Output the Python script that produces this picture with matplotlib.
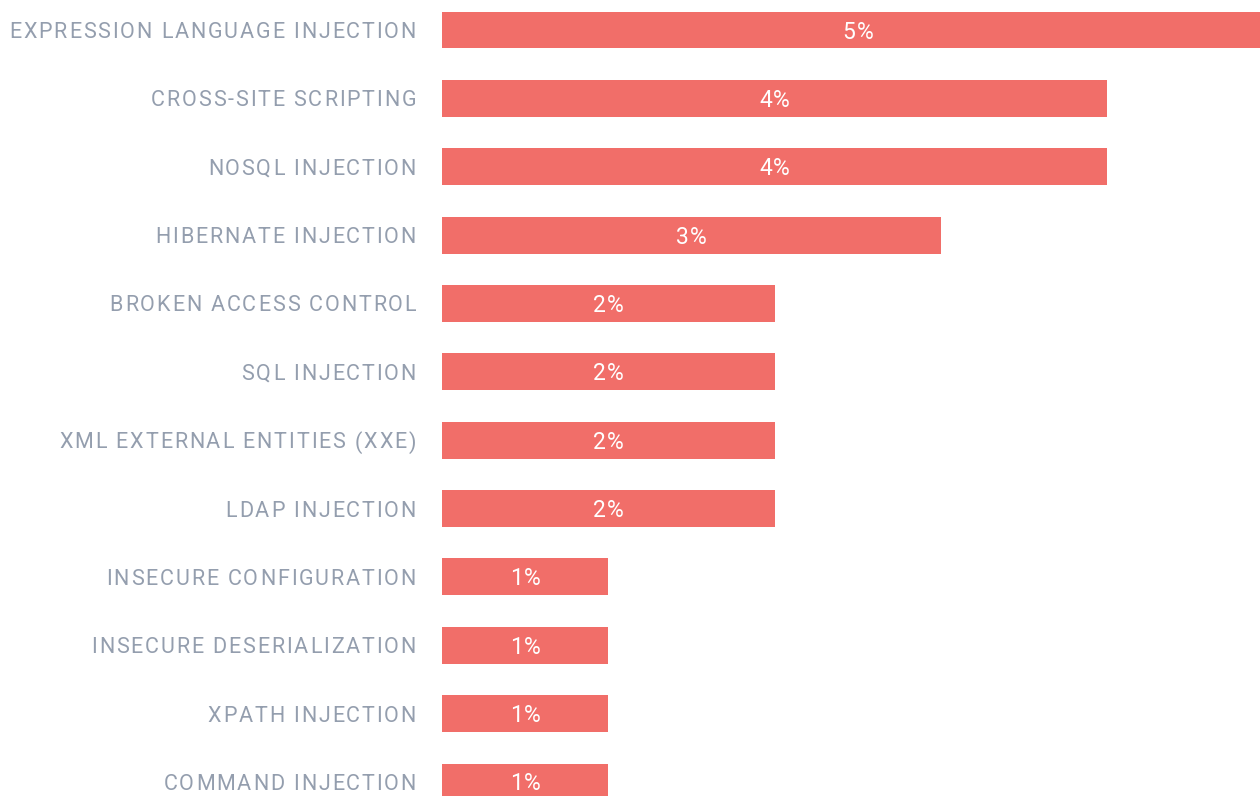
import matplotlib
matplotlib.use("Agg")
import matplotlib.pyplot as plt
from matplotlib.font_manager import FontProperties

categories = [
    "EXPRESSION LANGUAGE INJECTION",
    "CROSS-SITE SCRIPTING",
    "NOSQL INJECTION",
    "HIBERNATE INJECTION",
    "BROKEN ACCESS CONTROL",
    "SQL INJECTION",
    "XML EXTERNAL ENTITIES (XXE)",
    "LDAP INJECTION",
    "INSECURE CONFIGURATION",
    "INSECURE DESERIALIZATION",
    "XPATH INJECTION",
    "COMMAND INJECTION",
]
values = [5, 4, 4, 3, 2, 2, 2, 2, 1, 1, 1, 1]

bar_color = "#f16e69"
label_color = "#949eae"

plt.rcParams["font.family"] = ["Roboto", "DejaVu Sans"]

fig = plt.figure(figsize=(12.6, 7.96), dpi=100)
# axes run from the bar baseline to the right edge; the 5% bar runs off the page
ax = fig.add_axes([442 / 1260, 0, 818 / 1260, 1])
ax.set_xlim(0, 818 / 166.3)
ax.set_ylim(11.205, -0.439)

ypos = list(range(len(categories)))
ax.barh(ypos, values, height=0.54, color=bar_color)

renderer = fig.canvas.get_renderer()
prop = FontProperties(family=["Roboto", "DejaVu Sans"], size=15.5)
pct_prop = FontProperties(family=["Roboto", "DejaVu Sans"], size=16.5)


def text_w(s, fp):
    w, _, _ = renderer.get_text_width_height_descent(s + "|", fp, ismath=False)
    w0, _, _ = renderer.get_text_width_height_descent("|", fp, ismath=False)
    return w - w0


def spaced(x, y, s, fp, track, align, color, dx0=0, dy=0):
    # letter-spaced text, one glyph at a time; align = "right" or "center"
    total = text_w(s, fp) + track * (len(s) - 1)
    x0 = dx0 - total if align == "right" else dx0 - total / 2
    for i, ch in enumerate(s):
        if ch == " ":
            continue
        dx = x0 + text_w(s[:i], fp) + track * i
        ax.annotate(ch, xy=(x, y), xytext=(dx, dy), textcoords="offset pixels",
                    ha="left", va="center_baseline", color=color,
                    fontproperties=fp, annotation_clip=False)


for y, v, name in zip(ypos, values, categories):
    spaced(v / 2, y, f"{v}%", pct_prop, 1.2, "center", "white", dy=0.5)
    spaced(0, y, name, prop, 1.9, "right", label_color, dx0=-26)

ax.axis("off")
fig.savefig("out.png", dpi=100)
